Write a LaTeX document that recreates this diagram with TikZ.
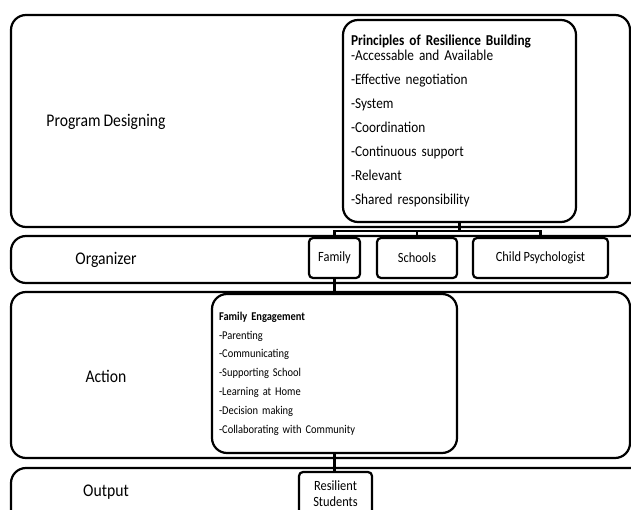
\documentclass[tikz,border=0pt]{standalone}
\usepackage{fontspec}
\setmainfont{Carlito}[FakeStretch=0.88,WordSpace=0.85]
\usepackage{tikz}
\tikzset{band/.style={rectangle,rounded corners=15pt,draw=black,line width=2.2pt,fill=white,inner sep=0pt}}
\tikzset{listbox/.style={rectangle,rounded corners=15pt,draw=black,line width=2.2pt,fill=white,align=left,inner ysep=0pt}}
\tikzset{smallbox/.style={rectangle,rounded corners=4pt,draw=black,line width=2.2pt,fill=white,align=center,inner sep=0pt,font=\fontsize{14.1}{16}\selectfont}}
\tikzset{bandlabel/.style={font=\fontsize{17.8}{19}\selectfont}}
\tikzset{link/.style={line width=2.5pt}}

\begin{document}
\begin{tikzpicture}[x=1pt,y=-1pt]
    \clip (0,0) rectangle (631,510);

    \node[band,minimum width=619pt,minimum height=212pt] (design) at (320.5,121)   {};
    \node[band,minimum width=649pt,minimum height=47pt]  (organ)  at (335.5,259.5) {};
    \node[band,minimum width=619pt,minimum height=166pt] (action) at (320.5,375)   {};
    \node[band,minimum width=649pt,minimum height=62pt]  (output) at (335.5,499)   {};

    \node[bandlabel] (designlbl) at (106,122) {Program Designing};
    \node[bandlabel] (organlbl)  at (106,260) {Organizer};
    \node[bandlabel] (actionlbl) at (106,376) {Action};
    \node[bandlabel] (outputlbl) at (106,492) {Output};

    \node[listbox,text width=217pt,inner xsep=8pt,minimum height=202pt,
          font=\fontsize{15.1}{15}\selectfont] (prin) at (459.5,121)
        {\textbf{Principles of Resilience Building}\\
         -Accessable and Available\\[9pt]
         -Effective negotiation\\[9pt]
         -System\\[9pt]
         -Coordination\\[9pt]
         -Continuous support\\[9pt]
         -Relevant\\[9pt]
         -Shared responsibility};

    \node[smallbox,minimum width=51pt,minimum height=40pt]  (fam)   at (334.5,258) {Family};
    \node[smallbox,minimum width=80pt,minimum height=40pt]  (sch)   at (417,258)   {Schools};
    \node[smallbox,minimum width=135pt,minimum height=40pt] (psych) at (540.5,258) {Child Psychologist};

    \node[listbox,text width=231pt,inner xsep=7pt,minimum height=159pt,
          font=\fontsize{11.9}{18.8}\selectfont] (fe) at (334.5,373.5)
        {\textbf{Family Engagement}\\
         -Parenting\\
         -Communicating\\
         -Supporting School\\
         -Learning at Home\\
         -Decision making\\
         -Collaborating with Community};

    \node[smallbox,minimum width=73pt,minimum height=44pt] (res) at (335.5,494) {Resilient\\Students};

    \draw[link] (prin.south) -- ++(0,8) -| (fam.north);
    \draw[link] (prin.south) -- ++(0,8) -| (sch.north);
    \draw[link] (prin.south) -- ++(0,8) -| (psych.north);
    \draw[link] (fam.south) -- (fe.north);
    \draw[link] (fe.south) -- (fe.south |- res.north);
\end{tikzpicture}
\end{document}
